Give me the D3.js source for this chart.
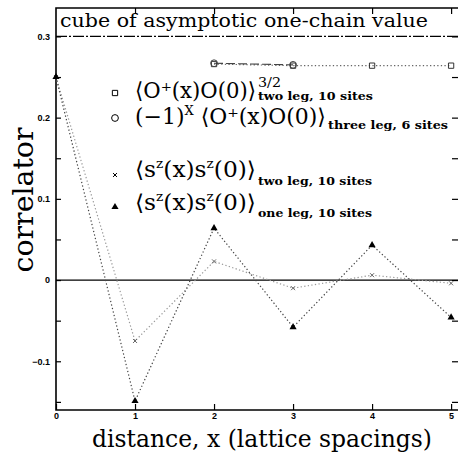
<!DOCTYPE html>
<html>
<head>
<meta charset="utf-8">
<script src="https://cdn.jsdelivr.net/npm/d3@7"></script>
<style>
  body { margin: 0; background: #fff; }
  svg { display: block; }
  .tick text { font-family: "Liberation Sans", Arial, sans-serif; font-weight: bold; font-size: 9px; }
</style>
</head>
<body>
<svg id="chart" width="458" height="454"></svg>
<script>
/********/
/* data */
/********/

const distances = [0, 1, 2, 3, 4, 5];
const twoLegPairing = [null, null, 0.266, 0.264, 0.264, 0.264];
const threeLegPairing = [null, null, 0.267, 0.265, null, null];
const twoLegSpin = [0.25, -0.075, 0.023, -0.010, 0.006, -0.004];
const oneLegSpin = [0.25, -0.149, 0.064, -0.058, 0.043, -0.046];
const asymptote = 0.3;

const yTickValues = [-0.1, 0, 0.1, 0.2, 0.3];
const yTickLabels = ["\u22120.1", "0", "0.1", "0.2", "0.3"];
const yMinorTicks = [-0.15, -0.05, 0.05, 0.15, 0.25];
const xTickValues = [0, 1, 2, 3, 4, 5];

/*********/
/* setup */
/*********/

const svg = d3.select("#chart");
const plotLeft = 56, plotRight = 459, plotTop = 8, plotBottom = 410;

const x = d3.scaleLinear().domain([0, 5.1]).range([plotLeft, plotRight]);
const y = d3.scaleLinear().domain([-0.16, 0.335]).range([plotBottom, plotTop]);

const serif = "'DejaVu Serif', 'Liberation Serif', serif";

/********/
/* axes */
/********/

svg.append("g")
  .attr("transform", `translate(${plotLeft},0)`)
  .call(d3.axisLeft(y)
    .tickValues(yTickValues)
    .tickFormat((d, i) => yTickLabels[i])
    .tickSize(-5)
    .tickPadding(6));
svg.append("g")
  .attr("transform", `translate(${plotLeft},0)`)
  .call(d3.axisLeft(y).tickValues(yMinorTicks).tickFormat("").tickSize(-5));

svg.append("g")
  .attr("transform", `translate(458,0)`)
  .call(d3.axisRight(y).tickValues(yMinorTicks.concat(yTickValues)).tickFormat("").tickSize(-6));

svg.append("g")
  .attr("transform", `translate(0,${plotBottom})`)
  .call(d3.axisBottom(x).tickValues(xTickValues).tickFormat(d3.format("d")).tickSize(-6).tickPadding(3));

svg.append("g")
  .attr("transform", `translate(0,${plotTop})`)
  .call(d3.axisTop(x).tickValues(xTickValues.slice(1)).tickFormat("").tickSize(-6));

svg.selectAll(".domain").remove();
svg.selectAll(".tick line").attr("stroke", "#000").attr("stroke-width", 1.2);

// frame
svg.append("path")
  .attr("d", `M${plotRight},${plotTop}H${plotLeft}V${plotBottom}H${plotRight}`)
  .attr("fill", "none")
  .attr("stroke", "#000")
  .attr("stroke-width", 1.6);

// zero line
svg.append("line")
  .attr("x1", plotLeft).attr("x2", plotRight)
  .attr("y1", y(0)).attr("y2", y(0))
  .attr("stroke", "#000").attr("stroke-width", 1.3);

// asymptote
svg.append("line")
  .attr("x1", plotLeft).attr("x2", plotRight)
  .attr("y1", y(asymptote)).attr("y2", y(asymptote))
  .attr("stroke", "#000").attr("stroke-width", 1.1)
  .attr("stroke-dasharray", "11,2,2,2");

svg.append("text")
  .attr("x", 60).attr("y", 27)
  .attr("font-family", serif).attr("font-size", 19)
  .attr("textLength", 368).attr("lengthAdjust", "spacingAndGlyphs")
  .text("cube of asymptotic one-chain value");

/*********/
/* lines */
/*********/

function series(values) {
  return distances.map((d, i) => ({ x: d, y: values[i] })).filter(p => p.y !== null);
}

const line = d3.line().x(d => x(d.x)).y(d => y(d.y));

svg.append("path").datum(series(twoLegSpin)).attr("d", line)
  .attr("fill", "none").attr("stroke", "#999").attr("stroke-width", 1.2).attr("stroke-dasharray", "1.3,2.3");
svg.append("path").datum(series(oneLegSpin)).attr("d", line)
  .attr("fill", "none").attr("stroke", "#444").attr("stroke-width", 1.2).attr("stroke-dasharray", "1.3,2.3");
svg.append("path").datum(series(twoLegPairing)).attr("d", line)
  .attr("fill", "none").attr("stroke", "#666").attr("stroke-width", 1.2).attr("stroke-dasharray", "1.3,2.3");
svg.append("path").datum(series(threeLegPairing)).attr("d", line)
  .attr("fill", "none").attr("stroke", "#444").attr("stroke-width", 1.1).attr("stroke-dasharray", "9,3");

/***********/
/* markers */
/***********/

const sq = d3.symbol().type(d3.symbolSquare).size(28);
const circ = d3.symbol().type(d3.symbolCircle).size(36);
const tri = d3.symbol().type(d3.symbolTriangle).size(22);
const cross = d3.symbol().type(d3.symbolTimes).size(12);

function markers(values, sym, fill, stroke) {
  svg.append("g").selectAll("path")
    .data(series(values))
    .join("path")
    .attr("transform", d => `translate(${x(d.x)},${y(d.y)})`)
    .attr("d", sym)
    .attr("fill", fill)
    .attr("stroke", stroke)
    .attr("stroke-width", 1);
}

markers(twoLegPairing, sq, "none", "#333");
markers(threeLegPairing, circ, "none", "#444");
markers(twoLegSpin, cross, "none", "#666");
markers(oneLegSpin, tri, "#000", "none");

/**********/
/* legend */
/**********/

// main: [text, isSuperscript] pieces, squeezed to mainWidth
const legendRows = [
  { sym: sq, fill: "none", stroke: "#000", symY: 93, base: 98, mainWidth: 121,
    main: [["\u27E8O\u207A(x)O(0)\u27E9", false]],
    sup: { text: "3/2", x: 258, y: 87, w: 23 },
    sub: { text: "two leg, 10 sites", x: 258, y: 100, w: 115 } },
  { sym: circ, fill: "none", stroke: "#000", symY: 118, base: 124, mainWidth: 191,
    main: [["(\u22121)", false], ["X", true], [" \u27E8O\u207A(x)O(0)\u27E9", false]],
    sub: { text: "three leg, 6 sites", x: 328, y: 129, w: 120 } },
  { sym: cross, fill: "none", stroke: "#000", symY: 175, base: 177, mainWidth: 121,
    main: [["\u27E8s", false], ["z", true], ["(x)s", false], ["z", true], ["(0)\u27E9", false]],
    sub: { text: "two leg, 10 sites", x: 258, y: 185, w: 114 } },
  { sym: tri, fill: "#000", stroke: "none", symY: 207, base: 210, mainWidth: 121,
    main: [["\u27E8s", false], ["z", true], ["(x)s", false], ["z", true], ["(0)\u27E9", false]],
    sub: { text: "one leg, 10 sites", x: 258, y: 217, w: 114 } },
];

legendRows.forEach(row => {
  svg.append("path")
    .attr("transform", `translate(115,${row.symY})`)
    .attr("d", row.sym)
    .attr("fill", row.fill)
    .attr("stroke", row.stroke)
    .attr("stroke-width", 1);

  const t = svg.append("text")
    .attr("font-family", serif);
  let shifted = 0;
  row.main.forEach(([txt, isSup]) => {
    const target = isSup ? -9 : 0;
    t.append("tspan")
      .attr("font-size", isSup ? 13 : 22)
      .attr("dy", target - shifted)
      .text(txt);
    shifted = target;
  });
  const w = t.node().getComputedTextLength();
  t.attr("transform", `translate(135,${row.base}) scale(${row.mainWidth / w},1)`);

  [row.sup, row.sub].forEach(s => {
    if (!s) return;
    svg.append("text")
      .attr("x", s.x).attr("y", s.y)
      .attr("font-family", serif)
      .attr("font-size", s === row.sup ? 12 : 11)
      .attr("font-weight", s === row.sub ? "bold" : "normal")
      .attr("textLength", s.w).attr("lengthAdjust", "spacingAndGlyphs")
      .text(s.text);
  });
});

/**********/
/* labels */
/**********/

svg.append("text")
  .attr("transform", "translate(33,200) rotate(-90)")
  .attr("text-anchor", "middle")
  .attr("font-family", serif).attr("font-size", 27)
  .attr("textLength", 145).attr("lengthAdjust", "spacingAndGlyphs")
  .text("correlator");

svg.append("text")
  .attr("x", 262).attr("y", 447)
  .attr("text-anchor", "middle")
  .attr("font-family", serif).attr("font-size", 24)
  .attr("textLength", 340).attr("lengthAdjust", "spacingAndGlyphs")
  .text("distance, x (lattice spacings)");
</script>
</body>
</html>
